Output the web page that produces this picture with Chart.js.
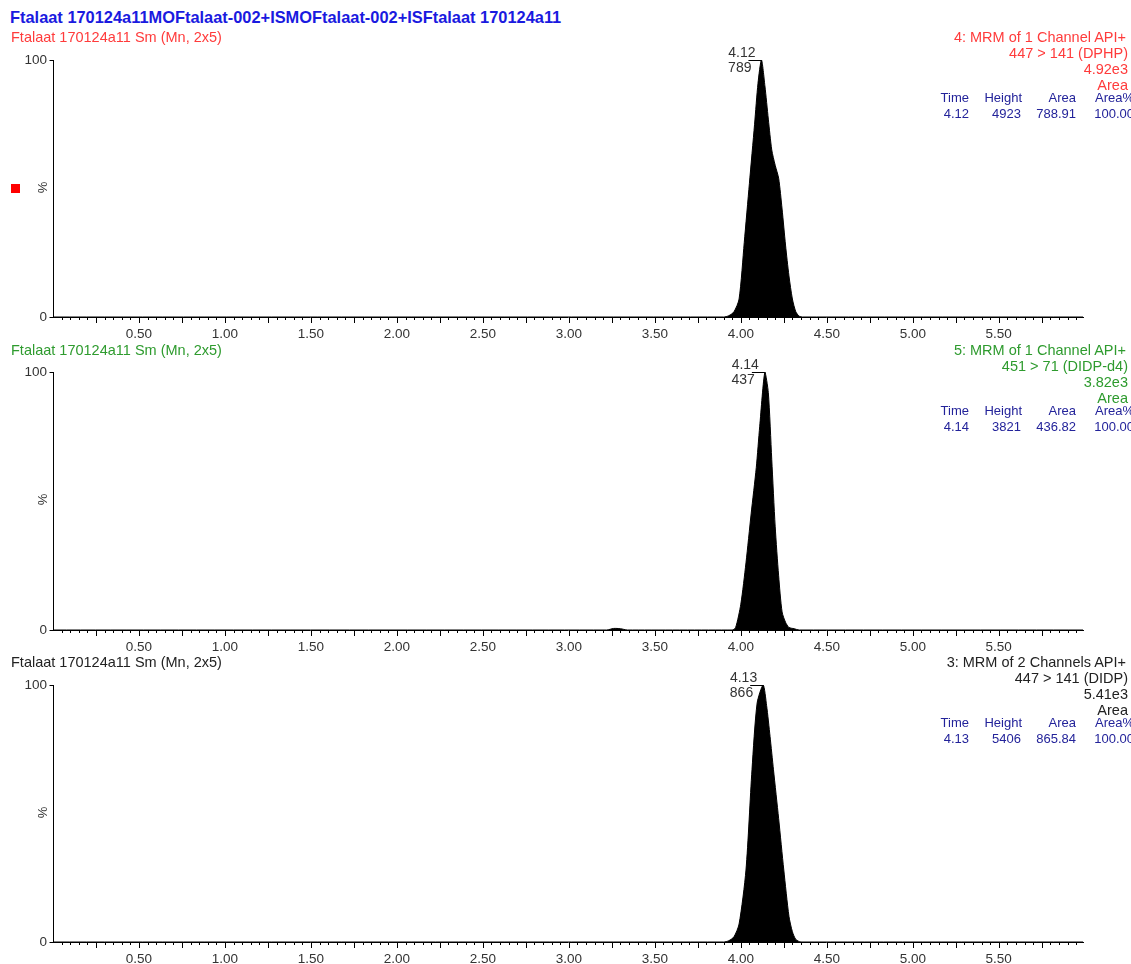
<!DOCTYPE html>
<html>
<head>
<meta charset="utf-8">
<script src="https://cdn.jsdelivr.net/npm/chart.js@4.4.1/dist/chart.umd.min.js"></script>
<style>
  html, body { margin: 0; padding: 0; background: #fff; }
  body { width: 1131px; height: 964px; position: relative; overflow: hidden; font-family: "Liberation Sans", Arial, sans-serif; }
  .cv { position: absolute; left: 0; }
  .t { position: absolute; white-space: nowrap; font-size: 13px; line-height: 16px; z-index: 2; }
  .r { text-align: right; }
  .pct { position: absolute; font-size: 13px; color: #333; transform: rotate(-90deg); z-index: 2; }
</style>
</head>
<body>
<div class="t" style="left:10px; top:8px; font-size:16.4px; line-height:18px; font-weight:bold; color:#1a1adf;">Ftalaat 170124a11MOFtalaat-002+ISMOFtalaat-002+ISFtalaat 170124a11</div>
<div style="position:absolute; left:11px; top:184px; width:9px; height:9px; background:#ff0000;"></div>

<script>
// ---------- DATA ----------
const xTickLabels = [0.5, 1.0, 1.5, 2.0, 2.5, 3.0, 3.5, 4.0, 4.5, 5.0, 5.5];
const yTickLabels = [0, 100];

// Panel 1: 447 > 141 (DPHP)
const times1 = [0.00, 3.90, 3.93, 3.96, 3.99, 4.02, 4.05, 4.08, 4.10, 4.12, 4.14, 4.16, 4.18, 4.20, 4.22, 4.24, 4.26, 4.28, 4.30, 4.32, 4.34, 4.36, 5.99];
const intens1 = [0, 0, 0.5, 2, 7, 29, 52, 75, 91, 100, 90, 77, 65, 59, 54, 42, 28, 16, 7, 2, 0.3, 0, 0];

// Panel 2: 451 > 71 (DIDP-d4)
const times2 = [0.00, 3.22, 3.26, 3.30, 3.34, 3.95, 3.97, 4.00, 4.03, 4.06, 4.09, 4.11, 4.14, 4.16, 4.18, 4.20, 4.22, 4.24, 4.26, 4.28, 4.31, 4.34, 5.99];
const intens2 = [0, 0, 0.6, 0.5, 0, 0, 1, 10, 26, 45, 63, 79, 100, 92, 66, 40, 21, 7, 3, 1, 0.5, 0, 0];

// Panel 3: 447 > 141 (DIDP)
const times3 = [0.00, 3.90, 3.93, 3.96, 3.99, 4.03, 4.065, 4.095, 4.13, 4.15, 4.17, 4.19, 4.22, 4.25, 4.28, 4.30, 4.32, 4.35, 5.99];
const intens3 = [0, 0, 0.5, 2, 7, 28, 67, 93, 100, 92, 80, 67, 48, 28, 10, 4, 1, 0, 0];

const panelSampleLabels = ["Ftalaat 170124a11 Sm (Mn, 2x5)", "Ftalaat 170124a11 Sm (Mn, 2x5)", "Ftalaat 170124a11 Sm (Mn, 2x5)"];
const panelFunctions = ["4: MRM of 1 Channel API+", "5: MRM of 1 Channel API+", "3: MRM of 2 Channels API+"];
const panelTransitions = ["447 > 141 (DPHP)", "451 > 71 (DIDP-d4)", "447 > 141 (DIDP)"];
const panelMaxIntensity = ["4.92e3", "3.82e3", "5.41e3"];
const peakTimes = [4.12, 4.14, 4.13];
const peakHeights = [4923, 3821, 5406];
const peakAreas = [788.91, 436.82, 865.84];
const peakAreaPct = [100.00, 100.00, 100.00];

// ---------- STYLE / LAYOUT ----------
const panelColors = ["#ff3b3b", "#2e9b2e", "#222222"];
const tableColor = "#23239a";
const chartTops = [60, 372, 685];
const chartBottoms = [317, 630, 942];
const headerY = [37, 350, 662];
const AXIS_LEFT = 53, AXIS_RIGHT = 1083, W = 1131, PADTOP = 22, XAXH = 30;
const FONT = '"Liberation Sans", Arial, sans-serif';

function addText(txt, x, yCenter, color, alignRight, size) {
  const d = document.createElement('div');
  d.className = 't' + (alignRight ? ' r' : '');
  d.textContent = txt;
  d.style.color = color;
  d.style.top = (yCenter - 8) + 'px';
  if (size) d.style.fontSize = size + 'px';
  if (alignRight) { d.style.right = (W - x) + 'px'; } else { d.style.left = x + 'px'; }
  document.body.appendChild(d);
}

const tickPlugin = {
  id: 'msTicks',
  afterDraw(chart, args, opts) {
    const ctx = chart.ctx, xs = chart.scales.x, ys = chart.scales.y;
    const base = ys.getPixelForValue(0);
    ctx.save();
    ctx.strokeStyle = '#000';
    ctx.lineWidth = 1;
    ctx.beginPath();
    for (let i = 1; i * 0.05 <= xs.max + 1e-9; i++) {
      const px = Math.round(xs.getPixelForValue(i * 0.05)) + 0.5;
      const len = (i % 5 === 0) ? 6 : 3;
      ctx.moveTo(px, base); ctx.lineTo(px, base + len);
    }
    const x0 = Math.round(xs.left) + 0.5;
    [0, 100].forEach(v => {
      const py = Math.round(ys.getPixelForValue(v)) + 0.5;
      ctx.moveTo(x0 - 4, py); ctx.lineTo(x0, py);
    });
    ctx.stroke();
    // peak label
    const px = xs.getPixelForValue(opts.peakTime);
    const py = Math.round(ys.getPixelForValue(100)) + 0.5;
    ctx.beginPath();
    ctx.moveTo(px - 13, py); ctx.lineTo(px, py); ctx.lineTo(px, py + 3);
    ctx.stroke();
    ctx.fillStyle = '#333';
    ctx.font = '14px ' + FONT;
    ctx.textAlign = 'right';
    ctx.textBaseline = 'alphabetic';
    ctx.fillText(opts.peakText, px - 6, py - 4);
    ctx.textBaseline = 'top';
    ctx.fillText(opts.areaText, px - 10, py + 1);
    ctx.restore();
  }
};

function makePanel(i, times, intens) {
  const top = chartTops[i] - PADTOP;
  const h = (chartBottoms[i] - chartTops[i]) + PADTOP + XAXH;
  const c = document.createElement('canvas');
  c.className = 'cv';
  c.style.top = top + 'px';
  c.width = W; c.height = h;
  c.style.width = W + 'px'; c.style.height = h + 'px';
  document.body.appendChild(c);
  const pts = times.map((t, k) => ({ x: t, y: intens[k] }));
  new Chart(c, {
    type: 'line',
    data: { datasets: [{ data: pts, borderColor: '#000', backgroundColor: '#000', borderWidth: 1, pointRadius: 0, fill: 'origin', tension: 0.25 }] },
    options: {
      responsive: false, animation: false, devicePixelRatio: 1,
      layout: { padding: { top: PADTOP, right: W - AXIS_RIGHT, left: 0, bottom: 0 } },
      plugins: { legend: { display: false }, tooltip: { enabled: false },
        msTicks: { peakTime: peakTimes[i], peakText: peakTimes[i].toFixed(2), areaText: Math.round(peakAreas[i]).toString() } },
      scales: {
        x: {
          type: 'linear', min: 0, max: 5.99,
          afterBuildTicks: (s) => { s.ticks = xTickLabels.map(v => ({ value: v })); },
          afterFit: (s) => { s.height = XAXH; },
          ticks: { callback: (v) => Number(v).toFixed(2), color: '#333', font: { family: FONT, size: 13.5 }, padding: 9, maxRotation: 0, autoSkip: false },
          grid: { display: true, drawOnChartArea: false, drawTicks: false, color: 'rgba(0,0,0,0)' },
          border: { display: true, color: '#000', width: 1 }
        },
        y: {
          type: 'linear', min: 0, max: 100,
          afterBuildTicks: (s) => { s.ticks = yTickLabels.map(v => ({ value: v })); },
          afterFit: (s) => { s.width = AXIS_LEFT; },
          ticks: { color: '#333', font: { family: FONT, size: 13.5 }, padding: 6 },
          grid: { display: true, drawOnChartArea: false, drawTicks: false, color: 'rgba(0,0,0,0)' },
          border: { display: true, color: '#000', width: 1 }
        }
      }
    },
    plugins: [tickPlugin]
  });

  // texts
  const hy = headerY[i];
  const col = panelColors[i];
  addText(panelSampleLabels[i], 11, hy, col, false, 14.5);
  addText(panelFunctions[i], 1126, hy, col, true, 14.5);
  addText(panelTransitions[i], 1128, hy + 16, col, true, 14.5);
  addText(panelMaxIntensity[i], 1128, hy + 32, col, true, 14.5);
  addText('Area', 1128, hy + 48, col, true, 14.5);
  const ty = hy + 61;
  addText('Time', 969, ty, tableColor, true);
  addText('Height', 1022, ty, tableColor, true);
  addText('Area', 1076, ty, tableColor, true);
  addText('Area%', 1134, ty, tableColor, true);
  addText(peakTimes[i].toFixed(2), 969, ty + 16, tableColor, true);
  addText(String(peakHeights[i]), 1021, ty + 16, tableColor, true);
  addText(peakAreas[i].toFixed(2), 1076, ty + 16, tableColor, true);
  addText(peakAreaPct[i].toFixed(2), 1134, ty + 16, tableColor, true);
  const p = document.createElement('div');
  p.className = 'pct';
  p.textContent = '%';
  p.style.left = '37px';
  p.style.top = ((chartTops[i] + chartBottoms[i]) / 2 - 9) + 'px';
  document.body.appendChild(p);
}

makePanel(0, times1, intens1);
makePanel(1, times2, intens2);
makePanel(2, times3, intens3);
</script>
</body>
</html>
